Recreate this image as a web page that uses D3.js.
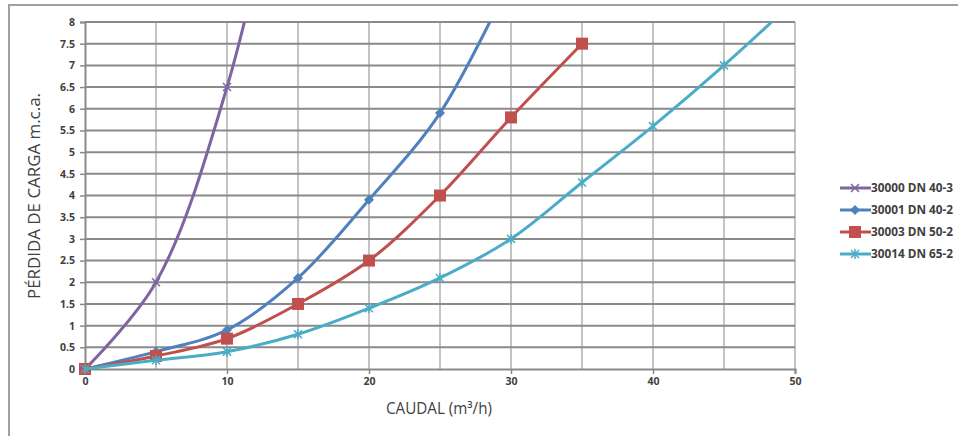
<!DOCTYPE html>
<html><head><meta charset="utf-8">
<script src="https://cdn.jsdelivr.net/npm/d3@7"></script>
<style>body{margin:0;background:#fff}svg{display:block}</style>
</head><body>
<svg id="c" width="958" height="436"></svg>
<script>
const seriesNames = ["30000 DN 40-3", "30001 DN 40-2", "30003 DN 50-2", "30014 DN 65-2"];
const seriesColors = ["#8064A2", "#4F81BD", "#C0504D", "#4BACC6"];
const seriesMarkers = ["x", "diamond", "square", "star"];
const s1x = [0, 5, 10, 15];
const s1y = [0, 2, 6.5, 13.5];
const s2x = [0, 5, 10, 15, 20, 25, 30];
const s2y = [0, 0.4, 0.9, 2.1, 3.9, 5.9, 9];
const s3x = [0, 5, 10, 15, 20, 25, 30, 35];
const s3y = [0, 0.3, 0.7, 1.5, 2.5, 4, 5.8, 7.5];
const s4x = [0, 5, 10, 15, 20, 25, 30, 35, 40, 45, 50];
const s4y = [0, 0.2, 0.4, 0.8, 1.4, 2.1, 3, 4.3, 5.6, 7, 8.5];
const markerCount = [3, 6, 8, 10];
const xTicks = [0, 10, 20, 30, 40, 50];
const xGrid = [5, 10, 15, 20, 25, 30, 35, 40, 45, 50];
const yTicks = [0, 0.5, 1, 1.5, 2, 2.5, 3, 3.5, 4, 4.5, 5, 5.5, 6, 6.5, 7, 7.5, 8];
const xTitle = "CAUDAL (m³/h)";
const yTitle = "PÉRDIDA DE CARGA m.c.a.";

const xs = [s1x, s2x, s3x, s4x], ys = [s1y, s2y, s3y, s4y];
const svg = d3.select("#c");
const L = 85, R = 795, T = 22, B = 369;
const x = d3.scaleLinear().domain([0, 50]).range([L, R]);
const y = d3.scaleLinear().domain([0, 8]).range([B, T]);
const font = "'Open Sans', 'DejaVu Sans', sans-serif";

// frame
svg.append("rect").attr("x", 9).attr("y", 5).attr("width", 1000).attr("height", 500)
  .attr("fill", "none").attr("stroke", "#a0a0a0").attr("stroke-width", 2);

// vertical grid
svg.append("g").selectAll("line").data(xGrid).join("line")
  .attr("x1", d => x(d)).attr("x2", d => x(d)).attr("y1", T).attr("y2", B)
  .attr("stroke", "#c4c4c4").attr("stroke-width", 2);
// horizontal grid
svg.append("g").selectAll("line").data(yTicks.slice(1)).join("line")
  .attr("x1", L).attr("x2", R).attr("y1", d => y(d)).attr("y2", d => y(d))
  .attr("stroke", "#8a8a8a").attr("stroke-width", 2);

// axes
const yAxis = svg.append("g").attr("transform", `translate(${L},0)`)
  .call(d3.axisLeft(y).tickValues(yTicks).tickSize(5).tickPadding(5).tickFormat(d => String(d)));
const xAxis = svg.append("g").attr("transform", `translate(0,${B})`)
  .call(d3.axisBottom(x).tickValues(xTicks).tickSize(5).tickPadding(4).tickFormat(d => String(d)));
[yAxis, xAxis].forEach(a => {
  a.select(".domain").attr("stroke", "#8a8a8a").attr("stroke-width", 2);
  a.selectAll(".tick line").attr("stroke", "#8a8a8a").attr("stroke-width", 1.5);
  a.selectAll("text").attr("font-family", font).attr("font-size", 10.5)
    .attr("font-weight", "bold").attr("fill", "#404040");
});

// clip
svg.append("clipPath").attr("id", "pc").append("rect")
  .attr("x", L - 10).attr("y", T).attr("width", R - L + 20).attr("height", B - T + 20);

const line = d3.line().x(d => x(d[0])).y(d => y(d[1])).curve(d3.curveCatmullRom.alpha(0.5));
const g = svg.append("g").attr("clip-path", "url(#pc)");

function marker(sel, type, color, cx, cy) {
  if (type === "diamond") {
    sel.append("path").attr("d", `M${cx},${cy-5}L${cx+5},${cy}L${cx},${cy+5}L${cx-5},${cy}Z`).attr("fill", color);
  } else if (type === "square") {
    sel.append("rect").attr("x", cx - 6).attr("y", cy - 6).attr("width", 12).attr("height", 12).attr("fill", color);
  } else if (type === "x") {
    sel.append("path").attr("d", `M${cx-4},${cy-4}L${cx+4},${cy+4}M${cx-4},${cy+4}L${cx+4},${cy-4}`)
      .attr("stroke", color).attr("stroke-width", 1.5);
  } else {
    sel.append("path").attr("d", `M${cx-4},${cy-4}L${cx+4},${cy+4}M${cx-4},${cy+4}L${cx+4},${cy-4}M${cx},${cy-5}L${cx},${cy+5}`)
      .attr("stroke", color).attr("stroke-width", 1.5);
  }
}

seriesNames.forEach((n, i) => {
  const pts = xs[i].map((v, j) => [v, ys[i][j]]);
  g.append("path").attr("d", line(pts)).attr("fill", "none")
    .attr("stroke", seriesColors[i]).attr("stroke-width", 3);
  const mg = g.append("g");
  pts.slice(0, markerCount[i]).forEach(p => marker(mg, seriesMarkers[i], seriesColors[i], x(p[0]), y(p[1])));
});

// legend
const legY = [188, 210, 232, 254];
seriesNames.forEach((n, i) => {
  const lg = svg.append("g");
  lg.append("line").attr("x1", 840).attr("x2", 871).attr("y1", legY[i]).attr("y2", legY[i])
    .attr("stroke", seriesColors[i]).attr("stroke-width", 3);
  marker(lg, seriesMarkers[i], seriesColors[i], 855, legY[i]);
  lg.append("text").attr("x", 871).attr("y", legY[i]).attr("dy", "0.35em")
    .attr("font-family", font).attr("font-size", 11.5).attr("font-weight", "bold")
    .attr("textLength", 82).attr("lengthAdjust", "spacingAndGlyphs")
    .attr("fill", "#404040").text(n);
});

// titles
svg.append("text").attr("x", 439).attr("y", 414).attr("text-anchor", "middle")
  .attr("font-family", font).attr("font-size", 15.5).attr("fill", "#404040")
  .attr("textLength", 106).attr("lengthAdjust", "spacingAndGlyphs").text(xTitle);
svg.append("text").attr("transform", "translate(40,196) rotate(-90)").attr("text-anchor", "middle")
  .attr("font-family", font).attr("font-size", 17).attr("fill", "#404040")
  .attr("textLength", 206).attr("lengthAdjust", "spacingAndGlyphs").text(yTitle);
</script>
</body></html>
